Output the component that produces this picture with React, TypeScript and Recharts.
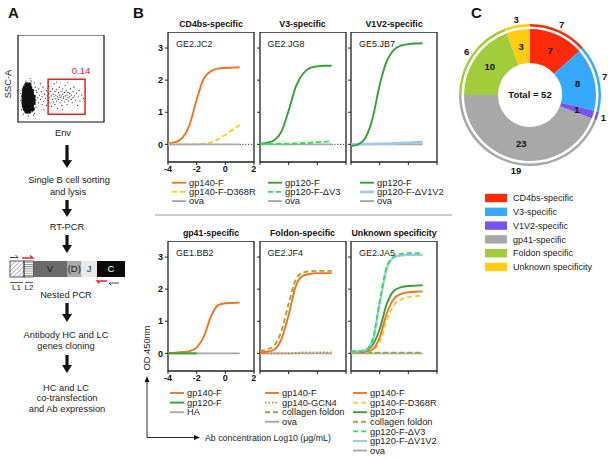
import React from "react";
import {
  LineChart,
  Line,
  XAxis,
  YAxis,
  ReferenceArea,
  ReferenceLine,
  ScatterChart,
  Scatter,
  PieChart,
  Pie,
  Cell,
} from "recharts";

document.body.style.margin = "0";

const FONT = "'Liberation Sans', Arial, Helvetica, sans-serif";

// ---- panel A: flow plot events (channel units 0-100) ----
const flowCore: [number, number][] = [
  [10, 12], [13, 12],
  [8, 15], [11, 15], [14, 15], [17, 15],
  [7, 18.5], [10, 18.5], [13, 18.5], [16, 18.5],
  [6.5, 22], [9.5, 22], [12.5, 22], [15.5, 22], [18, 22],
  [6.5, 25.5], [9.5, 25.5], [12.5, 25.5], [15.5, 25.5], [18, 25.5],
  [6.5, 29], [9.5, 29], [12.5, 29], [15.5, 29], [18, 29],
  [7, 32.5], [10, 32.5], [13, 32.5], [16, 32.5],
  [7, 36], [10, 36], [13, 36], [16, 36],
  [8, 39.5], [11, 39.5], [14, 39.5],
  [10, 43], [13, 43],
];
const flowEvents: [number, number][] = [
  [20, 30], [21, 25], [22, 34], [23, 28], [24, 22], [24, 38], [25, 31], [26, 26], [27, 35], [28, 29],
  [28, 20], [29, 40], [30, 24], [31, 32], [32, 27], [33, 36], [33, 19], [34, 30], [35, 25], [36, 33],
  [36, 41], [37, 22], [37, 28], [38, 35], [39, 30], [39, 18], [40, 26], [40, 38], [41, 32], [41, 23],
  [42, 29], [42, 44], [43, 35], [43, 20], [44, 27], [44, 31], [45, 37], [45, 24], [46, 29], [46, 16],
  [47, 34], [47, 26], [48, 31], [48, 40], [49, 22], [49, 28], [50, 35], [50, 30], [51, 25], [51, 19],
  [52, 32], [52, 38], [53, 27], [53, 29], [54, 34], [54, 23], [55, 30], [55, 42], [56, 26], [56, 36],
  [57, 31], [57, 20], [58, 28], [58, 34], [59, 24], [60, 33], [60, 29], [61, 38], [62, 26], [62, 31],
  [63, 22], [64, 35], [64, 28], [65, 40], [66, 30], [67, 25], [68, 33], [69, 19], [70, 29], [71, 36],
  [72, 24], [74, 31], [76, 27], [15, 48], [18, 8], [14, 50], [19, 45], [17, 12], [52, 14], [45, 46],
  [30, 14], [58, 45], [26, 44], [21, 17], [4, 30], [5, 20], [20, 40], [3, 25],
  [5, 38], [4, 14], [9, 47], [12, 7], [16, 46], [20, 20], [21, 36], [6, 9], [3, 33], [19, 10],
];
const flowXTicks = [4, 7, 9, 11, 13, 26, 33, 37, 40, 42, 58, 64, 68, 71, 73, 88, 94];
const flowYTicks = [6, 14, 22, 34, 46, 58, 70, 82, 94];

// ---- panel B: ELISA, OD450 vs log10 Ab concentration ----
const conc = [-4, -3.5, -3, -2.5, -2, -1.5, -1, -0.5, 0, 0.5, 1];
const zeros = [0, 0, 0, 0, 0, 0, 0, 0, 0, 0, 0];

const jc2_gp140F = [0.03, 0.07, 0.2, 0.6, 1.4, 2.05, 2.28, 2.36, 2.38, 2.39, 2.4];
const jc2_d368r = [0, 0, 0, 0, 0, 0.02, 0.06, 0.16, 0.3, 0.45, 0.6];

const jg8_gp120F = [0.02, 0.05, 0.13, 0.4, 1.05, 1.8, 2.2, 2.38, 2.43, 2.45, 2.45];
const jg8_dV3 = [0, 0.01, 0.01, 0.02, 0.02, 0.03, 0.04, 0.05, 0.07, 0.08, 0.1];

const jb7_gp120F = [-0.05, 0.0, 0.2, 0.8, 1.85, 2.6, 2.95, 3.08, 3.12, 3.14, 3.15];
const jb7_dV1V2 = [0, 0, 0.01, 0.01, 0.02, 0.02, 0.03, 0.04, 0.05, 0.06, 0.07];

const bb2_gp140F = [0.01, 0.02, 0.04, 0.07, 0.18, 0.52, 1.15, 1.5, 1.56, 1.57, 1.58];
const bb2_gp120F = [0, 0, 0, 0, 0, null, null, null, null, null, null];

const jf4_gp140F = [0.03, 0.05, 0.12, 0.45, 1.2, 2.1, 2.42, 2.48, 2.5, 2.5, 2.5];
const jf4_gcn4 = [0, 0, 0, 0, 0, 0.01, 0.03, 0.03, 0.03, 0.03, 0.03];
const jf4_collagen = [0.08, 0.12, 0.25, 0.7, 1.55, 2.3, 2.52, 2.56, 2.57, 2.57, 2.57];

const ja5_gp140F = [0.03, 0.03, 0.05, 0.12, 0.5, 1.25, 1.7, 1.85, 1.9, 1.92, 1.93];
const ja5_d368r = [0.03, 0.03, 0.04, 0.1, 0.35, 1.05, 1.5, 1.68, 1.75, 1.78, 1.8];
const ja5_gp120F = [0.05, 0.05, 0.08, 0.25, 0.75, 1.55, 1.95, 2.06, 2.1, 2.11, 2.12];
const ja5_collagen = [0.02, 0.02, 0.02, 0.02, 0.02, 0.02, 0.02, 0.02, 0.02, 0.02, 0.02];
const ja5_dV3 = [0.06, 0.06, 0.1, 0.42, 1.6, 2.7, 3.02, 3.1, 3.12, 3.12, 3.12];
const ja5_dV1V2 = [0.05, 0.06, 0.1, 0.38, 1.55, 2.65, 2.98, 3.05, 3.07, 3.07, 3.07];

const odTicks = [0, 1, 2, 3];
const concTicks = [-4, -2, 0, 2];

// ---- panel C ----
const specificities = ["CD4bs-specific", "V3-specific", "V1V2-specific", "gp41-specific", "Foldon specific", "Unknown specificity"];
const mAbCounts = [7, 8, 1, 23, 10, 3];
const outerCounts = [7, 7, 1, 19, 6, 3];
const specColors = ["#FF2A0A", "#36A9FF", "#7A52F0", "#A8A8A8", "#A2CC3C", "#FFCC11"];

const ORANGE = "#F7721F";
const YELLOW = "#FFCC1A";
const GREY = "#A8A8A8";
const GREEN = "#35A037";
const LIME = "#2EE44C";
const LBLUE = "#9CC8F2";
const OLIVE = "#9DA830";
const BROWN = "#C88A2C";

type S = { name: string; values: (number | null)[]; color: string; dash?: string; w?: number };
type P = { title: string; clone: string; left: number; top: number; labels: boolean; dotted: boolean; legendX: number; series: S[] };

const TOP = 32;
const BOT = 241;
const LEFTS = [168, 259.5, 351];
const BW = 86;
const BH = 130;

const panels: P[] = [
  {
    title: "CD4bs-specific", clone: "GE2.JC2", left: LEFTS[0], top: TOP, labels: true, dotted: true, legendX: 172,
    series: [
      { name: "gp140-F", values: jc2_gp140F, color: ORANGE },
      { name: "gp140-F-D368R", values: jc2_d368r, color: YELLOW, dash: "5 3" },
      { name: "ova", values: zeros, color: GREY },
    ],
  },
  {
    title: "V3-specific", clone: "GE2.JG8", left: LEFTS[1], top: TOP, labels: false, dotted: true, legendX: 268,
    series: [
      { name: "gp120-F", values: jg8_gp120F, color: GREEN },
      { name: "ova", values: zeros, color: GREY },
      { name: "gp120-F-\u0394V3", values: jg8_dV3, color: LIME, dash: "5 3" },
    ],
  },
  {
    title: "V1V2-specific", clone: "GE5.JB7", left: LEFTS[2], top: TOP, labels: false, dotted: false, legendX: 360,
    series: [
      { name: "ova", values: zeros, color: GREY },
      { name: "gp120-F-\u0394V1V2", values: jb7_dV1V2, color: LBLUE, w: 2.6 },
      { name: "gp120-F", values: jb7_gp120F, color: GREEN },
    ],
  },
  {
    title: "gp41-specific", clone: "GE1.BB2", left: LEFTS[0], top: BOT, labels: true, dotted: false, legendX: 170,
    series: [
      { name: "HA", values: zeros, color: GREY },
      { name: "gp140-F", values: bb2_gp140F, color: ORANGE },
      { name: "gp120-F", values: bb2_gp120F, color: GREEN },
    ],
  },
  {
    title: "Foldon-specific", clone: "GE2.JF4", left: LEFTS[1], top: BOT, labels: false, dotted: false, legendX: 265,
    series: [
      { name: "ova", values: zeros, color: GREY },
      { name: "gp140-GCN4", values: jf4_gcn4, color: BROWN, dash: "1.5 2" },
      { name: "gp140-F", values: jf4_gp140F, color: ORANGE },
      { name: "collagen foldon", values: jf4_collagen, color: OLIVE, dash: "5 3" },
    ],
  },
  {
    title: "Unknown specificity", clone: "GE2.JA5", left: LEFTS[2], top: BOT, labels: false, dotted: false, legendX: 353,
    series: [
      { name: "ova", values: zeros, color: GREY },
      { name: "collagen foldon", values: ja5_collagen, color: OLIVE, dash: "5 3" },
      { name: "gp140-F-D368R", values: ja5_d368r, color: YELLOW, dash: "5 3" },
      { name: "gp140-F", values: ja5_gp140F, color: ORANGE },
      { name: "gp120-F", values: ja5_gp120F, color: GREEN },
      { name: "gp120-F-\u0394V1V2", values: ja5_dV1V2, color: LBLUE, w: 2.2 },
      { name: "gp120-F-\u0394V3", values: ja5_dV3, color: LIME, dash: "5 3" },
    ],
  },
];

// legend order as printed under each panel
const legendOrder: string[][] = [
  ["gp140-F", "gp140-F-D368R", "ova"],
  ["gp120-F", "gp120-F-\u0394V3", "ova"],
  ["gp120-F", "gp120-F-\u0394V1V2", "ova"],
  ["gp140-F", "gp120-F", "HA"],
  ["gp140-F", "gp140-GCN4", "collagen foldon", "ova"],
  ["gp140-F", "gp140-F-D368R", "gp120-F", "collagen foldon", "gp120-F-\u0394V3", "gp120-F-\u0394V1V2", "ova"],
];

const tickStyle = { fontSize: 9, fontWeight: 700, fill: "#111", fontFamily: FONT };

function ElisaPanel({ p }: { p: P }) {
  const data = conc.map((x, i) => {
    const row: any = { x };
    p.series.forEach((s, k) => (row["s" + k] = s.values[i]));
    return row;
  });
  return (
    <div style={{ position: "absolute", left: p.left - 20, top: p.top }}>
      <LineChart width={20 + BW + 2} height={BH + 14} data={data} margin={{ top: 0, right: 2, bottom: 0, left: 0 }}>
        <XAxis
          dataKey="x" type="number" domain={[-4, 2]} ticks={concTicks} allowDataOverflow
          height={14} tickSize={3} tickMargin={1} axisLine={false} stroke="#222"
          tick={tickStyle} tickFormatter={(v) => (p.labels ? String(v) : "")}
        />
        <YAxis
          type="number" domain={[-0.55, 3.5]} ticks={odTicks} allowDataOverflow
          width={20} tickSize={3} tickMargin={2} axisLine={false} stroke="#222"
          tick={tickStyle} tickFormatter={(v) => (p.labels ? String(v) : "")}
        />
        <ReferenceArea x1={-4} x2={2} y1={-0.55} y2={3.5} fill="#fff" fillOpacity={0} stroke="#222" strokeWidth={1.3} ifOverflow="visible" />
        {p.dotted && (
          <ReferenceLine segment={[{ x: 1, y: 0 }, { x: 2, y: 0 }]} stroke="#222" strokeDasharray="1 1.8" ifOverflow="visible" />
        )}
        {p.series.map((s, k) => (
          <Line
            key={k} dataKey={"s" + k} type="monotone" stroke={s.color} strokeWidth={s.w ?? 1.9}
            strokeDasharray={s.dash} dot={false} activeDot={false} isAnimationActive={false}
          />
        ))}
      </LineChart>
    </div>
  );
}

function FlowPlot() {
  const core = flowCore.map(([x, y]) => ({ x, y }));
  const ev = flowEvents.map(([x, y]) => ({ x, y }));
  return (
    <div style={{ position: "absolute", left: 14, top: 35 }}>
      <ScatterChart width={91} height={91} margin={{ top: 0, right: 1, bottom: 0, left: 0 }}>
        <XAxis dataKey="x" type="number" domain={[0, 100]} ticks={flowXTicks} height={4} tickSize={2.5} axisLine={false} tick={false} stroke="#222" />
        <YAxis dataKey="y" type="number" domain={[0, 100]} ticks={flowYTicks} width={4} tickSize={2.5} axisLine={false} tick={false} stroke="#222" />
        <ReferenceArea x1={0} x2={100} y1={0} y2={100} fill="#fff" fillOpacity={0} stroke="#111" strokeWidth={1.2} ifOverflow="visible" />
        <Scatter data={core} isAnimationActive={false} shape={(s: any) => <circle cx={s.cx} cy={s.cy} r={2.3} fill="#111" />} />
        <Scatter data={ev} isAnimationActive={false} shape={(s: any) => <circle cx={s.cx} cy={s.cy} r={0.6} fill="#222" />} />
        <ReferenceArea x1={35} x2={78} y1={9} y2={49} fill="#fff" fillOpacity={0} stroke="#E8231E" strokeWidth={1.5} ifOverflow="visible" />
      </ScatterChart>
    </div>
  );
}

const RAD = Math.PI / 180;

function Donut() {
  const data = specificities.map((name, i) => ({ name, value: mAbCounts[i], outer: outerCounts[i] }));
  const innerLabel = (q: any) => {
    const r = (q.innerRadius + q.outerRadius) / 2;
    const x = q.cx + r * Math.cos(-q.midAngle * RAD);
    const y = q.cy + r * Math.sin(-q.midAngle * RAD);
    return (
      <text x={x} y={y} dy="0.35em" textAnchor="middle" fontSize={9.5} fontWeight={700} fill="#111" fontFamily={FONT}>
        {q.value}
      </text>
    );
  };
  const outerLabel = (q: any) => {
    const r = 77;
    const x = q.cx + r * Math.cos(-q.midAngle * RAD);
    const y = q.cy + r * Math.sin(-q.midAngle * RAD);
    return (
      <text x={x} y={y} dy="0.35em" textAnchor="middle" fontSize={9.5} fontWeight={700} fill="#111" fontFamily={FONT}>
        {outerCounts[q.index]}
      </text>
    );
  };
  return (
    <div style={{ position: "absolute", left: 450, top: 15 }}>
      <PieChart width={160} height={160} margin={{ top: 0, right: 0, bottom: 0, left: 0 }}>
        <Pie data={data} dataKey="value" cx={80} cy={80} innerRadius={32} outerRadius={66} startAngle={90} endAngle={-270}
          stroke="none" label={innerLabel} labelLine={false} isAnimationActive={false}>
          {data.map((d, i) => <Cell key={i} fill={specColors[i]} />)}
        </Pie>
        <Pie data={data} dataKey="value" cx={80} cy={80} innerRadius={68.5} outerRadius={71} startAngle={90} endAngle={-270}
          stroke="none" label={outerLabel} labelLine={false} isAnimationActive={false}>
          {data.map((d, i) => <Cell key={i} fill={specColors[i]} />)}
        </Pie>
      </PieChart>
    </div>
  );
}

function DownArrow({ x, y1, y2 }: { x: number; y1: number; y2: number }) {
  return (
    <g>
      <rect x={x - 1.6} y={y1} width={3.2} height={y2 - y1 - 7} fill="#111" />
      <polygon points={`${x - 5},${y2 - 8} ${x + 5},${y2 - 8} ${x},${y2}`} fill="#111" />
    </g>
  );
}

function Overlay() {
  const T = (x: number, y: number, s: string, o: any = {}) => (
    <text x={x} y={y} dy="0.35em" fontSize={9.3} fill="#222" fontFamily={FONT} textAnchor="middle" {...o}>
      {s}
    </text>
  );
  const total = mAbCounts.reduce((a, b) => a + b, 0);
  return (
    <svg width={612} height={460} style={{ position: "absolute", left: 0, top: 0, pointerEvents: "none" }}>
      <defs>
        <pattern id="hatch" patternUnits="userSpaceOnUse" width="3.2" height="3.2" patternTransform="rotate(45)">
          <line x1="0" y1="0" x2="0" y2="3.2" stroke="#333" strokeWidth="0.7" />
        </pattern>
        <pattern id="stripes" patternUnits="userSpaceOnUse" width="4" height="2.2">
          <line x1="0" y1="0.5" x2="4" y2="0.5" stroke="#333" strokeWidth="0.6" />
        </pattern>
      </defs>

      {/* panel letters */}
      <text x={8} y={18} fontSize={15} fontWeight={700} fontFamily={FONT} fill="#111">A</text>
      <text x={133} y={18} fontSize={15} fontWeight={700} fontFamily={FONT} fill="#111">B</text>
      <text x={471} y={18} fontSize={15} fontWeight={700} fontFamily={FONT} fill="#111">C</text>

      {/* panel A */}
      {T(7.5, 84, "SSC-A", { transform: "rotate(-90 7.5 84)" })}
      {T(63, 133, "Env")}
      {T(81, 71, "0.14", { fill: "#E8231E", fontSize: 9.5 })}
      <DownArrow x={67} y1={145} y2={168} />
      {T(69, 180, "Single B cell sorting")}
      {T(68, 191.5, "and lysis")}
      <DownArrow x={67} y1={200} y2={217} />
      {T(67, 227, "RT-PCR")}
      <DownArrow x={67} y1={235} y2={253} />
      <rect x={10} y={261} width={14} height={16} fill="url(#hatch)" stroke="#333" strokeWidth={0.8} />
      <rect x={24} y={261} width={9.5} height={16} fill="url(#stripes)" stroke="#333" strokeWidth={0.8} />
      <rect x={33.5} y={261} width={33.5} height={16} fill="#6B6B6B" />
      <rect x={67} y={261} width={14.5} height={16} fill="#A9A9A9" />
      <rect x={81.5} y={261} width={15.5} height={16} fill="#E8E8E8" />
      <rect x={97} y={261} width={28} height={16} fill="#0A0A0A" />
      {T(50, 269, "V", { fontSize: 9.5, fill: "#1a1a1a" })}
      {T(74.3, 269, "(D)", { fontSize: 9.5, fill: "#1a1a1a" })}
      {T(89, 269, "J", { fontSize: 9.5, fill: "#333" })}
      {T(111, 269, "C", { fontSize: 9.5, fill: "#fff" })}
      <line x1={10} y1={282.5} x2={23} y2={282.5} stroke="#333" strokeWidth={0.8} />
      <line x1={25} y1={282.5} x2={33} y2={282.5} stroke="#333" strokeWidth={0.8} />
      {T(16.5, 287.5, "L1", { fontSize: 8 })}
      {T(29, 287.5, "L2", { fontSize: 8 })}
      {/* primers */}
      <polyline points="10,257.5 18,257.5 15.5,255" fill="none" stroke="#333" strokeWidth={0.9} />
      <polyline points="22,258 33,258 30,255.5" fill="none" stroke="#E8231E" strokeWidth={1.3} />
      <polyline points="107,281 97,281 99.5,283.5" fill="none" stroke="#E8231E" strokeWidth={1.3} />
      <polyline points="119,283 109,283 111.5,285.5" fill="none" stroke="#333" strokeWidth={0.9} />
      {T(66, 295, "Nested PCR")}
      <DownArrow x={67} y1={303} y2={322} />
      {T(66, 335, "Antibody HC and LC")}
      {T(66, 346, "genes cloning")}
      <DownArrow x={67} y1={355} y2={373} />
      {T(66, 388, "HC and LC")}
      {T(67, 398, "co-transfection")}
      {T(67, 408.5, "and Ab expression")}

      {/* panel B titles, clone names and legends */}
      {panels.map((p, i) => (
        <g key={i}>
          {T(p.left + BW / 2, p.top - 8, p.title, { fontWeight: 700, fontSize: 8.8, fill: "#111" })}
          {T(p.left + 8, p.top + 11.5, p.clone, { textAnchor: "start", fontSize: 9 })}
          {legendOrder[i].map((name, j) => {
            const s = p.series.find((q) => q.name === name)!;
            const y = (p.top === TOP ? 182.7 : 393) + j * (p.top === TOP ? 9.2 : 9.6);
            return (
              <g key={j}>
                <line x1={p.legendX} x2={p.legendX + 14} y1={y} y2={y} stroke={s.color} strokeWidth={s.w ?? 1.9} strokeDasharray={s.dash} />
                {T(p.legendX + 17, y, name, { textAnchor: "start" })}
              </g>
            );
          })}
        </g>
      ))}
      <line x1={155} x2={452} y1={215} y2={215} stroke="#9a9a9a" strokeWidth={1} />

      {/* axis titles */}
      {T(147, 348, "OD 450nm", { transform: "rotate(-90 147 348)" })}
      <line x1={147} y1={437.5} x2={147} y2={381} stroke="#111" strokeWidth={0.9} />
      <polygon points="147,376 144.6,382 149.4,382" fill="#111" />
      <line x1={147} y1={437.5} x2={195} y2={437.5} stroke="#111" strokeWidth={0.9} />
      <polygon points="200,437.5 194,435.1 194,439.9" fill="#111" />
      {T(205, 437.5, "Ab concentration Log10 (\u03bcg/mL)", { textAnchor: "start", fontSize: 8.8 })}

      {/* panel C */}
      {T(530, 95, `Total = ${total}`, { fontWeight: 700, fontSize: 9.5, fill: "#111" })}
      {specificities.map((name, i) => {
        const y = 198 + i * 13.8;
        return (
          <g key={i}>
            <rect x={485} y={y - 4.2} width={22} height={8.4} fill={specColors[i]} />
            {T(513, y, name, { textAnchor: "start", fontSize: 9 })}
          </g>
        );
      })}
    </svg>
  );
}

export default function App() {
  return (
    <div style={{ position: "relative", width: 612, height: 460, background: "#fff", fontFamily: FONT, overflow: "hidden" }}>
      <FlowPlot />
      {panels.map((p, i) => (
        <ElisaPanel key={i} p={p} />
      ))}
      <Donut />
      <Overlay />
    </div>
  );
}
